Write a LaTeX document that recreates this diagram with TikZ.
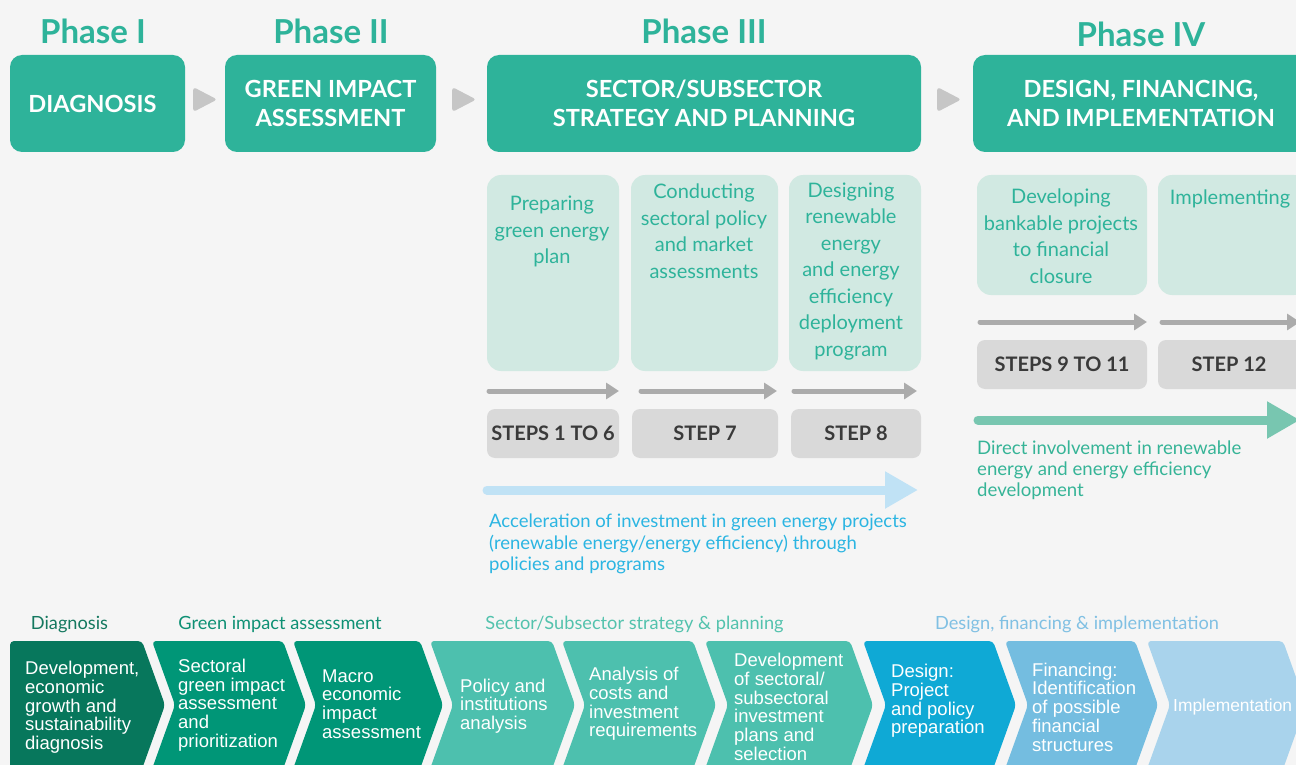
\documentclass[tikz,border=0pt]{standalone}
\usepackage{fontspec}
\setmainfont{Lato}
\newfontfamily\arialf{Liberation Sans}
\usetikzlibrary{arrows.meta,calc}
\definecolor{bg}{HTML}{F5F5F5}
\definecolor{teal}{HTML}{2EB39A}
\definecolor{lightbox}{HTML}{D1E9E2}
\definecolor{stepgray}{HTML}{D9D9D9}
\definecolor{steptext}{HTML}{3A3A3A}
\definecolor{arrgray}{HTML}{ABABAB}
\definecolor{trigray}{HTML}{C6C6C6}
\definecolor{bluearr}{HTML}{C0E2F5}
\definecolor{bluetext}{HTML}{2BB5E2}
\definecolor{tealarr}{HTML}{78C6B0}
\definecolor{tealtext}{HTML}{36B497}
\definecolor{cA}{HTML}{07775C}
\definecolor{cB}{HTML}{009677}
\definecolor{cC}{HTML}{4DC0AE}
\definecolor{cD}{HTML}{0FA9D5}
\definecolor{cE}{HTML}{74BDE0}
\definecolor{cF}{HTML}{A9D3EC}
\definecolor{lA}{HTML}{14785F}
\definecolor{lB}{HTML}{0E9074}
\definecolor{lC}{HTML}{53C2AD}
\definecolor{lD}{HTML}{80C0E3}
\begin{document}
\begin{tikzpicture}[x=1pt,y=-1pt,
  phase/.style={text=teal,font=\bfseries\fontsize{33}{36}\selectfont,inner sep=0},
  hdr/.style={fill=teal,rounded corners=12,inner sep=0},
  htext/.style={text=white,align=center,inner sep=0,
    font=\bfseries\fontsize{23.6}{29}\selectfont},
  lbox/.style={fill=lightbox,rounded corners=14,inner sep=0},
  ltext/.style={text=teal,align=center,font=\fontsize{20}{26.5}\selectfont,inner sep=0},
  stepbox/.style={fill=stepgray,rounded corners=8,text=steptext,inner sep=0,
    font=\bfseries\fontsize{20}{24}\selectfont},
  tri/.style={fill=trigray,rounded corners=3},
  garrow/.style={draw=arrgray,line width=5,line cap=round,
    -{Triangle[length=13pt,width=16pt]}},
  bigarrow/.style={line width=9,line cap=round,-{Triangle[length=33pt,width=35pt]}},
  note/.style={align=left,inner sep=0},
  blabel/.style={inner sep=0,anchor=base,font=\fontsize{18.2}{20}\selectfont},
  chev/.style={rounded corners=4},
  ctext/.style={text=white,align=left,inner sep=0,anchor=west,
    font=\arialf\fontsize{18.5}{18.7}\selectfont}
]
\useasboundingbox (0,0) rectangle (1296,765);
\clip (0,0) rectangle (1296,765);
\fill[bg] (0,0) rectangle (1296,765);

% Phase titles
\node[phase] (p1) at (93,31) {Phase I};
\node[phase] (p2) at (331,31) {Phase II};
\node[phase] (p3) at (704,31) {Phase III};
\node[phase] (p4) at (1141,34) {Phase IV};

% Header boxes
\node[hdr,minimum width=175,minimum height=97] (h1) at (97.5,103.5) {};
\node[hdr,minimum width=211,minimum height=97] (h2) at (330.5,103.5) {};
\node[hdr,minimum width=434,minimum height=97] (h3) at (704,103.5) {};
\node[hdr,minimum width=336,minimum height=97] (h4) at (1141,103.5) {};
\node[htext] (h1t) at (92.5,104) {DIAGNOSIS};
\node[htext] (h2t) at (330.5,103) {GREEN IMPACT\\ASSESSMENT};
\node[htext] (h3t) at (704,103) {SECTOR/SUBSECTOR\\STRATEGY AND PLANNING};
\node[htext] (h4t) at (1141,103) {DESIGN, FINANCING,\\AND IMPLEMENTATION};

% triangles between header boxes
\fill[tri] ($(h1.east)+(8,-16.5)$) -- ++(24,12.5) -- ++(-24,12.5) -- cycle;
\fill[tri] ($(h2.east)+(16,-16.5)$) -- ++(24,12.5) -- ++(-24,12.5) -- cycle;
\fill[tri] ($(h3.east)+(16,-16.5)$) -- ++(24,12.5) -- ++(-24,12.5) -- cycle;

% light boxes
\node[lbox,minimum width=132,minimum height=196] (b1) at (553,273) {};
\node[lbox,minimum width=147,minimum height=196] (b2) at (704.5,273) {};
\node[lbox,minimum width=132,minimum height=196] (b3) at (855,273) {};
\node[lbox,minimum width=170,minimum height=120] (b4) at (1062,235) {};
\node[lbox,minimum width=150,minimum height=120] (b5) at (1233,235) {};

\node[ltext] (t1) at (552,231.5) {Preparing\\green energy\\plan};
\node[ltext] (t2) at (704,231) {Conducting\\sectoral policy\\and market\\assessments};
\node[ltext] (t3) at (851,271.5) {Designing\\renewable\\energy\\and energy\\efficiency\\deployment\\program};
\node[ltext] (t4) at (1061,236) {Developing\\bankable projects\\to financial\\closure};
\node[ltext] (t5) at (1230,199) {Implementing};

% gray arrows
\coordinate (a1s) at (489,391); \coordinate (a1e) at (619,391);
\coordinate (a2s) at (641,391); \coordinate (a2e) at (777,391);
\coordinate (a3s) at (794,391); \coordinate (a3e) at (917,391);
\coordinate (a4s) at (980,322); \coordinate (a4e) at (1147,322);
\coordinate (a5s) at (1162,322); \coordinate (a5e) at (1300,322);
\draw[garrow] (a1s) -- (a1e);
\draw[garrow] (a2s) -- (a2e);
\draw[garrow] (a3s) -- (a3e);
\draw[garrow] (a4s) -- (a4e);
\draw[garrow] (a5s) -- (a5e);

% step boxes
\node[stepbox,minimum width=132,minimum height=49] (s1) at (553,433.5) {STEPS 1 TO 6};
\node[stepbox,minimum width=146,minimum height=49] (s2) at (705,433.5) {STEP 7};
\node[stepbox,minimum width=130,minimum height=49] (s3) at (856,433.5) {STEP 8};
\node[stepbox,minimum width=170,minimum height=49] (s4) at (1062,364.5) {STEPS 9 TO 11};
\node[stepbox,minimum width=150,minimum height=49] (s5) at (1233,364.5) {};
\node[inner sep=0,text=steptext,font=\bfseries\fontsize{20}{24}\selectfont] (s5t) at (1229,364.5) {STEP 12};

% big arrows
\coordinate (ba1s) at (487,490); \coordinate (ba1e) at (918,490);
\draw[bigarrow,draw=bluearr,color=bluearr] (ba1s) -- (ba1e);
\node[note,text=bluetext,anchor=west,font=\fontsize{18.5}{21.5}\selectfont] (n1) at (489,544) {Acceleration of investment in green energy projects\\(renewable energy/energy efficiency) through\\policies and programs};
\coordinate (ba2s) at (978,420); \coordinate (ba2e) at (1300,420);
\draw[bigarrow,draw=tealarr,color=tealarr] (ba2s) -- (ba2e);
\node[note,text=tealtext,anchor=west,font=\fontsize{18.6}{21.2}\selectfont] (n2) at (977,470) {Direct involvement in renewable\\energy and energy efficiency\\development};

% bottom labels
\node[blabel,text=lA] (l1) at (69.5,629) {Diagnosis};
\node[blabel,text=lB] (l2) at (280,629) {Green impact assessment};
\node[blabel,text=lC] (l3) at (634.5,629) {Sector/Subsector strategy \& planning};
\node[blabel,text=lD] (l4) at (1077,629) {Design, financing \& implementation};

% chevrons
\fill[cA,chev] (10,641) -- (142,641) -- (165,705) -- (142,769) -- (10,769) -- cycle;
\fill[cB,chev] (152,641) -- (283,641) -- (306,705) -- (283,769) -- (152,769) -- (175,705) -- cycle;
\fill[cB,chev] (293,641) -- (420,641) -- (443,705) -- (420,769) -- (293,769) -- (316,705) -- cycle;
\fill[cC,chev] (430,641) -- (552,641) -- (575,705) -- (552,769) -- (430,769) -- (453,705) -- cycle;
\fill[cC,chev] (562,641) -- (693,641) -- (716,705) -- (693,769) -- (562,769) -- (585,705) -- cycle;
\fill[cC,chev] (705,641) -- (850,641) -- (873,705) -- (850,769) -- (705,769) -- (728,705) -- cycle;
\fill[cD,chev] (863,641) -- (993,641) -- (1016,705) -- (993,769) -- (863,769) -- (886,705) -- cycle;
\fill[cE,chev] (1005,641) -- (1135,641) -- (1158,705) -- (1135,769) -- (1005,769) -- (1028,705) -- cycle;
\fill[cF,chev] (1147,641) -- (1283,641) -- (1306,705) -- (1283,769) -- (1147,769) -- (1170,705) -- cycle;

\node[ctext] (c1) at (25,707.5) {Development,\\economic\\growth and\\sustainability\\diagnosis};
\node[ctext] (c2) at (178,705) {Sectoral\\green impact\\assessment\\and\\prioritization};
\node[ctext] (c3) at (322,704) {Macro\\economic\\impact\\assessment};
\node[ctext] (c4) at (460,706) {Policy and\\institutions\\analysis};
\node[ctext] (c5) at (589,704) {Analysis of\\costs and\\investment\\requirements};
\node[ctext] (c6) at (734,707) {Development\\of sectoral/\\subsectoral\\investment\\plans and\\selection};
\node[ctext] (c7) at (891,701) {Design:\\Project\\and policy\\preparation};
\node[ctext] (c8) at (1032,707) {Financing:\\Identification\\of possible\\financial\\structures};
\node[ctext,font=\arialf\fontsize{17.4}{18.7}\selectfont] (c9) at (1173,707) {Implementation};
\end{tikzpicture}
\end{document}
